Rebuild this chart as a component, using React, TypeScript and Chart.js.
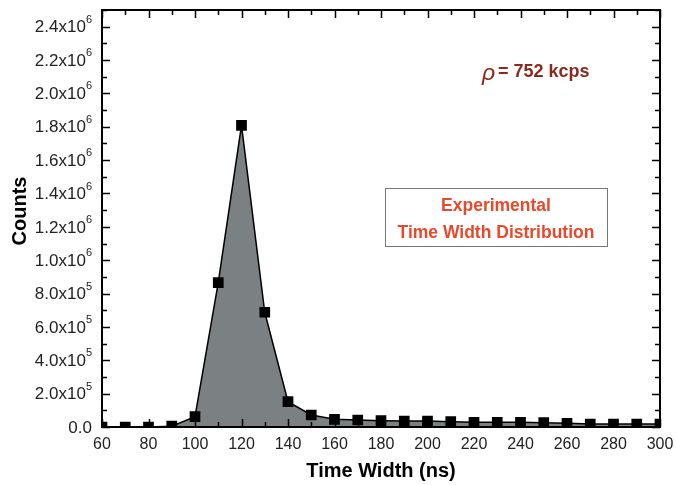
import React, { useEffect, useRef } from "react";
import { Chart, registerables } from "chart.js";

Chart.register(...registerables);

const timeWidths = [60, 70, 80, 90, 100, 110, 120, 130, 140, 150, 160, 170, 180, 190, 200, 210, 220, 230, 240, 250, 260, 270, 280, 290, 300];
const counts = [0, 0, 0, 5000, 62000, 866000, 1808000, 688000, 152000, 72000, 46000, 42000, 38000, 36000, 36000, 32000, 28000, 28000, 28000, 26000, 22000, 18000, 18000, 18000, 18000];
const yMajorTicks = [0, 200000, 400000, 600000, 800000, 1000000, 1200000, 1400000, 1600000, 1800000, 2000000, 2200000, 2400000];
const xTitle = "Time Width (ns)";
const yTitle = "Counts";
const rateLabel = "= 752 kcps";
const legendLines = ["Experimental", "Time Width Distribution"];

const FONT = "'Liberation Sans', Arial, sans-serif";

const framePlugin = {
  id: "framePlugin",
  afterDraw(chart: any) {
    const { ctx, chartArea, scales } = chart;
    const { left, right, top, bottom } = chartArea;
    const xs = scales.x;
    const ys = scales.y;
    ctx.save();
    ctx.strokeStyle = "#000";
    ctx.lineWidth = 2;
    ctx.strokeRect(left, top, right - left, bottom - top);
    ctx.lineWidth = 1.5;
    for (let v = 60; v <= 300; v += 10) {
      const px = Math.round(xs.getPixelForValue(v)) + 0.5;
      const len = v % 20 === 0 ? 8 : 5;
      ctx.beginPath();
      ctx.moveTo(px, bottom);
      ctx.lineTo(px, bottom - len);
      ctx.moveTo(px, top);
      ctx.lineTo(px, top + len);
      ctx.stroke();
    }
    for (let i = 0; i <= 25; i++) {
      const v = i * 100000;
      const py = Math.round(ys.getPixelForValue(v)) + 0.5;
      const len = i % 2 === 0 ? 8 : 5;
      ctx.beginPath();
      ctx.moveTo(left, py);
      ctx.lineTo(left + len, py);
      ctx.moveTo(right, py);
      ctx.lineTo(right - len, py);
      ctx.stroke();
    }
    ctx.fillStyle = "#222";
    ctx.textBaseline = "middle";
    const rightX = left - 10;
    for (const v of yMajorTicks) {
      const py = ys.getPixelForValue(v);
      let base: string;
      let sup = "";
      if (v === 0) {
        base = "0.0";
      } else if (v >= 1000000) {
        base = (v / 1000000).toFixed(1) + "x10";
        sup = "6";
      } else {
        base = (v / 100000).toFixed(1) + "x10";
        sup = "5";
      }
      ctx.font = `11px ${FONT}`;
      const supW = sup ? ctx.measureText(sup).width : 0;
      ctx.textAlign = "right";
      if (sup) ctx.fillText(sup, rightX, py - 7);
      ctx.font = `17px ${FONT}`;
      ctx.fillText(base, rightX - supW, py + 1);
    }
    ctx.fillStyle = "#000";
    ctx.font = `bold 20px ${FONT}`;
    ctx.textAlign = "center";
    ctx.textBaseline = "middle";
    ctx.fillText(xTitle, (left + right) / 2, 471);
    ctx.save();
    ctx.translate(20, 211);
    ctx.rotate(-Math.PI / 2);
    ctx.fillText(yTitle, 0, 0);
    ctx.restore();
    ctx.fillStyle = "#8a2a1c";
    ctx.textAlign = "left";
    ctx.font = `italic 23px ${FONT}`;
    ctx.fillText("\u03C1", 482, 74);
    ctx.font = `bold 18px ${FONT}`;
    ctx.fillText(rateLabel, 498, 72);
    ctx.strokeStyle = "#777";
    ctx.lineWidth = 1;
    ctx.strokeRect(385.5, 188.5, 222, 58);
    ctx.fillStyle = "#e8492a";
    ctx.font = `bold 17.5px ${FONT}`;
    ctx.textAlign = "center";
    ctx.fillText(legendLines[0], 496, 206);
    ctx.fillText(legendLines[1], 496, 233);
    ctx.restore();
  },
};

export default function App() {
  const ref = useRef<HTMLCanvasElement>(null);
  useEffect(() => {
    if (!ref.current) return;
    const chart = new Chart(ref.current, {
      type: "line",
      data: {
        datasets: [
          {
            data: timeWidths.map((t, i) => ({ x: t, y: counts[i] })),
            borderColor: "#000",
            borderWidth: 1.5,
            backgroundColor: "#7b8082",
            fill: "origin",
            pointStyle: "rect",
            pointRadius: 6.5,
            pointBackgroundColor: "#000",
            pointBorderColor: "#000",
            tension: 0,
          },
        ],
      },
      options: {
        responsive: false,
        animation: false,
        layout: { padding: { left: 0, right: 16, top: 10, bottom: 0 } },
        plugins: { legend: { display: false }, tooltip: { enabled: false } },
        scales: {
          x: {
            type: "linear",
            min: 60,
            max: 300,
            grid: { display: false, drawTicks: false },
            border: { display: false },
            ticks: {
              stepSize: 20,
              padding: 8,
              color: "#222",
              font: { family: FONT, size: 16 },
              maxRotation: 0,
            },
            afterFit(scale: any) {
              scale.height = 58;
              scale.paddingLeft = 0;
              scale.paddingRight = 0;
            },
          },
          y: {
            min: 0,
            max: 2500000,
            grid: { display: false, drawTicks: false },
            border: { display: false },
            ticks: { display: false, stepSize: 200000 },
            afterFit(scale: any) {
              scale.width = 102;
              scale.paddingTop = 0;
              scale.paddingBottom = 0;
            },
          },
        },
      },
      plugins: [framePlugin],
    } as any);
    return () => chart.destroy();
  }, []);
  return (
    <div style={{ position: "fixed", left: 0, top: 0, width: 676, height: 485, background: "#fff" }}>
      <canvas ref={ref} width={676} height={485} />
    </div>
  );
}
